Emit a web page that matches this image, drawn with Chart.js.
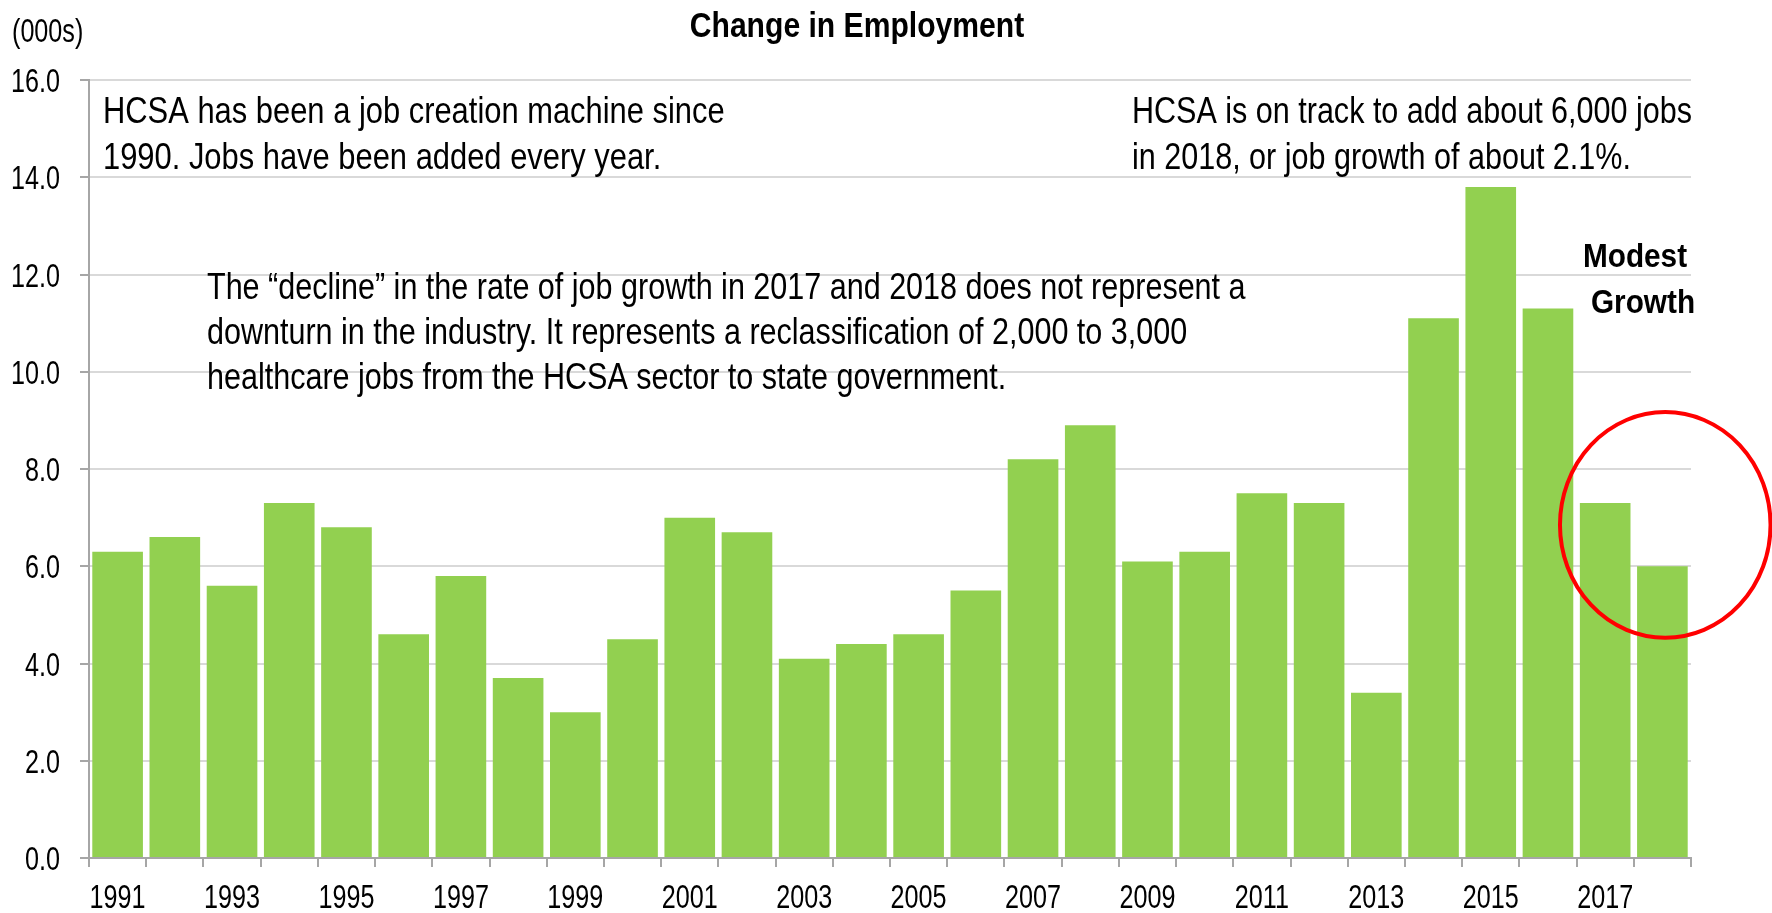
<!DOCTYPE html>
<html>
<head>
<meta charset="utf-8">
<script src="https://cdn.jsdelivr.net/npm/chart.js@4/dist/chart.umd.min.js"></script>
<style>
  html, body { margin: 0; padding: 0; background: #ffffff; }
  #wrap { width: 1772px; height: 913px; }
</style>
</head>
<body>
<div id="wrap"><canvas id="employment-chart"></canvas></div>
<script>
// Change in employment, thousands of jobs
const years = [
    '1991', '1992', '1993', '1994', '1995', '1996', '1997', '1998', '1999', '2000',
    '2001', '2002', '2003', '2004', '2005', '2006', '2007', '2008', '2009', '2010',
    '2011', '2012', '2013', '2014', '2015', '2016', '2017', '2018'
];
const jobChange = [
    6.3, 6.6, 5.6, 7.3, 6.8, 4.6, 5.8, 3.7, 3.0, 4.5,
    7.0, 6.7, 4.1, 4.4, 4.6, 5.5, 8.2, 8.9, 6.1, 6.3,
    7.5, 7.3, 3.4, 11.1, 13.8, 11.3, 7.3, 6.0
];
const yTicks = [0, 2, 4, 6, 8, 10, 12, 14, 16];

const FONT = "'Liberation Sans', Arial, sans-serif";

// no narrow font installed, so squeeze Liberation Sans sideways
const narrowText = (ctx, text, x, y, align, font, squeeze) => {
    ctx.save();
    ctx.translate(x, y);
    ctx.scale(squeeze, 1);
    ctx.font = font;
    ctx.textAlign = align;
    ctx.textBaseline = 'alphabetic';
    ctx.fillStyle = '#000000';
    ctx.fillText(text, 0, 0);
    ctx.restore();
};

// Axis labels, text boxes and the red circle round the last two years
const notesPlugin = {
    id: 'notes',
    afterDraw: (chart) => {
        const ctx = chart.ctx;
        const x = chart.scales.x;
        const y = chart.scales.y;
        const tickFont = '34px ' + FONT;
        const noteFont = '37px ' + FONT;
        const boldFont = 'bold 34px ' + FONT;

        // tick labels
        yTicks.forEach(v => {
            narrowText(ctx, v.toFixed(1), x.left - 29, y.getPixelForValue(v) + 12, 'right', tickFont, 0.74);
        });
        years.forEach((yr, i) => {
            if (i % 2 === 0) narrowText(ctx, yr, x.getPixelForValue(i), y.bottom + 50, 'center', tickFont, 0.74);
        });

        narrowText(ctx, 'Change in Employment', 857, 37, 'center', 'bold 35px ' + FONT, 0.86);
        narrowText(ctx, '(000s)', 12, 42, 'left', tickFont, 0.74);

        narrowText(ctx, 'HCSA has been a job creation machine since', 103, 123, 'left', noteFont, 0.835);
        narrowText(ctx, '1990. Jobs have been added every year.', 103, 169, 'left', noteFont, 0.835);

        narrowText(ctx, 'HCSA is on track to add about 6,000 jobs', 1132, 123, 'left', noteFont, 0.825);
        narrowText(ctx, 'in 2018, or job growth of about 2.1%.', 1132, 169, 'left', noteFont, 0.825);

        narrowText(ctx, 'The \u201cdecline\u201d in the rate of job growth in 2017 and 2018 does not represent a', 207, 299, 'left', noteFont, 0.825);
        narrowText(ctx, 'downturn in the industry. It represents a reclassification of 2,000 to 3,000', 207, 344, 'left', noteFont, 0.825);
        narrowText(ctx, 'healthcare jobs from the HCSA sector to state government.', 207, 389, 'left', noteFont, 0.825);

        narrowText(ctx, 'Modest', 1635, 267, 'center', boldFont, 0.875);
        narrowText(ctx, 'Growth', 1643, 313, 'center', boldFont, 0.875);

        // ellipse around 2017-2018
        const cx = x.getPixelForValue(27.05);
        const cy = y.getPixelForValue(6.85);
        const step = x.getPixelForValue(1) - x.getPixelForValue(0);
        const rx = step * 1.84;
        const ry = y.getPixelForValue(0) - y.getPixelForValue(2.32);
        ctx.save();
        ctx.beginPath();
        ctx.ellipse(cx, cy, rx, ry, 0, 0, Math.PI * 2);
        ctx.strokeStyle = '#ff0000';
        ctx.lineWidth = 4;
        ctx.stroke();
        ctx.restore();
    }
};

new Chart(document.getElementById('employment-chart'), {
    type: 'bar',
    data: {
        labels: years,
        datasets: [{
            label: 'Change in Employment',
            data: jobChange,
            backgroundColor: '#92d050',
            borderWidth: 0,
            categoryPercentage: 1.0,
            barPercentage: 0.885
        }]
    },
    options: {
        responsive: true,
        maintainAspectRatio: false,
        animation: false,
        layout: { padding: { top: 80, right: 81, bottom: 0, left: 0 } },
        plugins: {
            legend: { display: false },
            tooltip: { enabled: false }
        },
        scales: {
            x: {
                afterFit: (scale) => { scale.height = 55; },
                border: { color: '#a6a6a6', width: 2 },
                grid: {
                    offset: true,
                    drawOnChartArea: false,
                    drawTicks: true,
                    tickLength: 9,
                    tickColor: '#a6a6a6',
                    lineWidth: 2
                },
                ticks: { display: false, autoSkip: false }
            },
            y: {
                min: yTicks[0],
                max: yTicks[yTicks.length - 1],
                afterFit: (scale) => { scale.width = 89; },
                afterBuildTicks: (scale) => { scale.ticks = yTicks.map(v => ({ value: v })); },
                border: { color: '#a6a6a6', width: 2 },
                grid: {
                    color: '#d9d9d9',
                    lineWidth: 2,
                    tickLength: 9,
                    tickColor: '#a6a6a6'
                },
                ticks: { display: false }
            }
        }
    },
    plugins: [notesPlugin]
});
</script>
</body>
</html>
